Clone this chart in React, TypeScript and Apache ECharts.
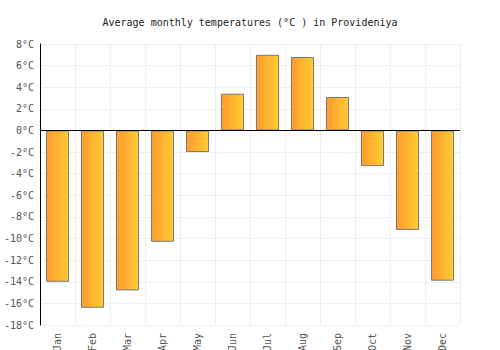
import React, { useEffect, useRef } from "react";
import * as echarts from "echarts";

const months = ["Jan", "Feb", "Mar", "Apr", "May", "Jun", "Jul", "Aug", "Sep", "Oct", "Nov", "Dec"];
const temps = [-14.0, -16.4, -14.8, -10.3, -2.0, 3.4, 7.0, 6.8, 3.1, -3.3, -9.2, -13.9];

export default function App() {
  const ref = useRef<HTMLDivElement>(null);
  useEffect(() => {
    const chart = echarts.init(ref.current!, undefined, { renderer: "svg" });
    const font = "DejaVu Sans Mono";
    chart.setOption({
      animation: false,
      title: {
        text: "Average monthly temperatures (°C ) in Provideniya",
        left: "center",
        top: 12,
        textStyle: { fontFamily: font, fontSize: 10, fontWeight: "normal", color: "#222" },
      },
      grid: { left: 40, right: 40, top: 44, bottom: 25, outerBoundsMode: "none", containLabel: false },
      xAxis: {
        type: "category",
        data: months,
        position: "bottom",
        axisLine: { show: false },
        axisTick: { show: false },
        axisLabel: { rotate: 90, fontFamily: font, fontSize: 10, color: "#555", margin: 8 },
        splitLine: { show: true, lineStyle: { color: "#eee" } },
        boundaryGap: true,
      },
      yAxis: {
        type: "value",
        min: -18,
        max: 8,
        interval: 2,
        axisLine: { show: true, lineStyle: { color: "#000" } },
        axisTick: { show: false },
        axisLabel: { formatter: "{value}°C", fontFamily: font, fontSize: 10, color: "#555", margin: 6 },
        splitLine: { show: true, lineStyle: { color: "#eee" } },
      },
      series: [
        {
          type: "bar",
          data: temps,
          barWidth: "66%",
          itemStyle: {
            color: new echarts.graphic.LinearGradient(0, 0, 1, 0, [
              { offset: 0, color: "#ff9a2e" },
              { offset: 1, color: "#ffcc33" },
            ]),
            borderColor: "#777",
            borderWidth: 1,
          },
          markLine: {
            silent: true,
            symbol: "none",
            label: { show: false },
            lineStyle: { color: "#000", type: "solid", width: 1 },
            data: [{ yAxis: 0 }],
          },
        },
      ],
    });
    return () => chart.dispose();
  }, []);
  return <div ref={ref} style={{ position: "absolute", left: 0, top: 0, width: 500, height: 350 }} />;
}
